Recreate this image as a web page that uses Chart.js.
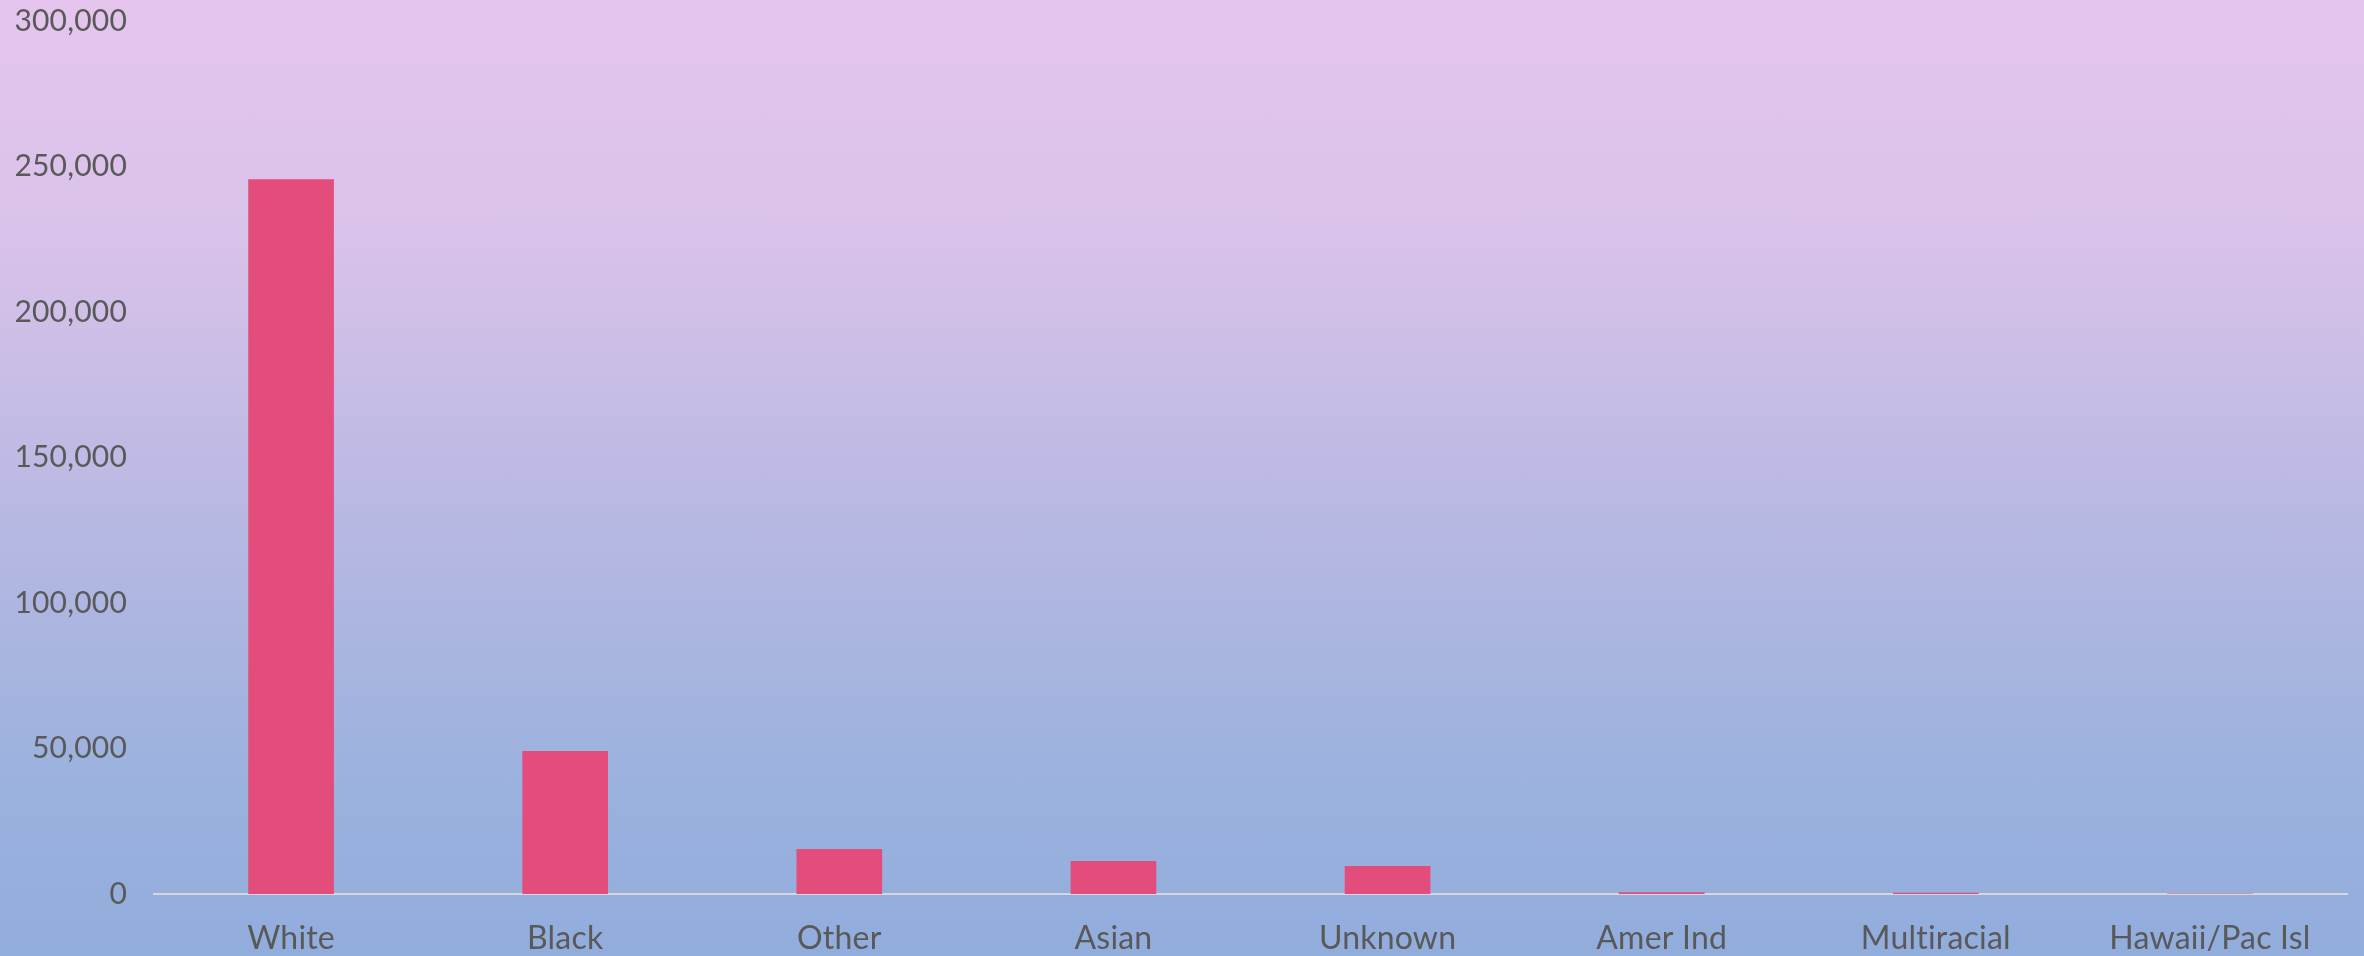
<!DOCTYPE html>
<html>
<head>
<meta charset="utf-8">
<script src="https://cdn.jsdelivr.net/npm/chart.js@4.4.1/dist/chart.umd.min.js"></script>
<style>
  html, body { margin: 0; padding: 0; }
  body {
    width: 2364px; height: 956px; overflow: hidden;
    background: linear-gradient(to bottom, #e5c5ee 0%, #d9c2e9 25%, #b6b8e2 55%, #9db2de 80%, #91addc 100%);
  }
  #wrap { position: relative; width: 2364px; height: 956px; }
</style>
</head>
<body>
<div id="wrap"><canvas id="c" width="2364" height="956"></canvas></div>
<script>
const categories = ["White", "Black", "Other", "Asian", "Unknown", "Amer Ind", "Multiracial", "Hawaii/Pac Isl"];
const counts = [245600, 49100, 15500, 11300, 9600, 600, 400, 150];
const yTicks = [0, 50000, 100000, 150000, 200000, 250000, 300000];

const noLigatures = {
  id: 'noLigatures',
  beforeDraw(chart) { chart.ctx.letterSpacing = '0.2px'; }
};

const ctx = document.getElementById('c');
new Chart(ctx, {
  type: 'bar',
  data: {
    labels: categories,
    datasets: [{
      label: 'Count',
      data: counts,
      backgroundColor: '#e34d7c',
      borderWidth: 0,
      barPercentage: 1,
      categoryPercentage: 0.3125
    }]
  },
  options: {
    responsive: false,
    animation: false,
    devicePixelRatio: 1,
    layout: { padding: { top: 21, right: 17, left: 0, bottom: 0 } },
    plugins: { legend: { display: false }, tooltip: { enabled: false } },
    scales: {
      x: {
        grid: { display: false, drawTicks: false },
        border: { display: true, color: '#d6d6dc', width: 2 },
        ticks: {
          color: '#595959',
          font: { family: 'Lato', size: 32 },
          padding: 25,
          maxRotation: 0, autoSkip: false
        },
        afterFit: (s) => { s.height = 62; }
      },
      y: {
        min: 0, max: 300000,
        afterBuildTicks: (s) => { s.ticks = yTicks.map(v => ({ value: v })); },
        grid: { display: false, drawTicks: false },
        border: { display: false },
        ticks: {
          color: '#595959',
          font: { family: 'Lato', size: 30 },
          padding: 27,
          callback: (v) => v.toLocaleString('en-US')
        },
        afterFit: (s) => { s.width = 154; s.paddingTop = 0; s.paddingBottom = 0; }
      }
    }
  },
  plugins: [noLigatures]
});
</script>
</body>
</html>
